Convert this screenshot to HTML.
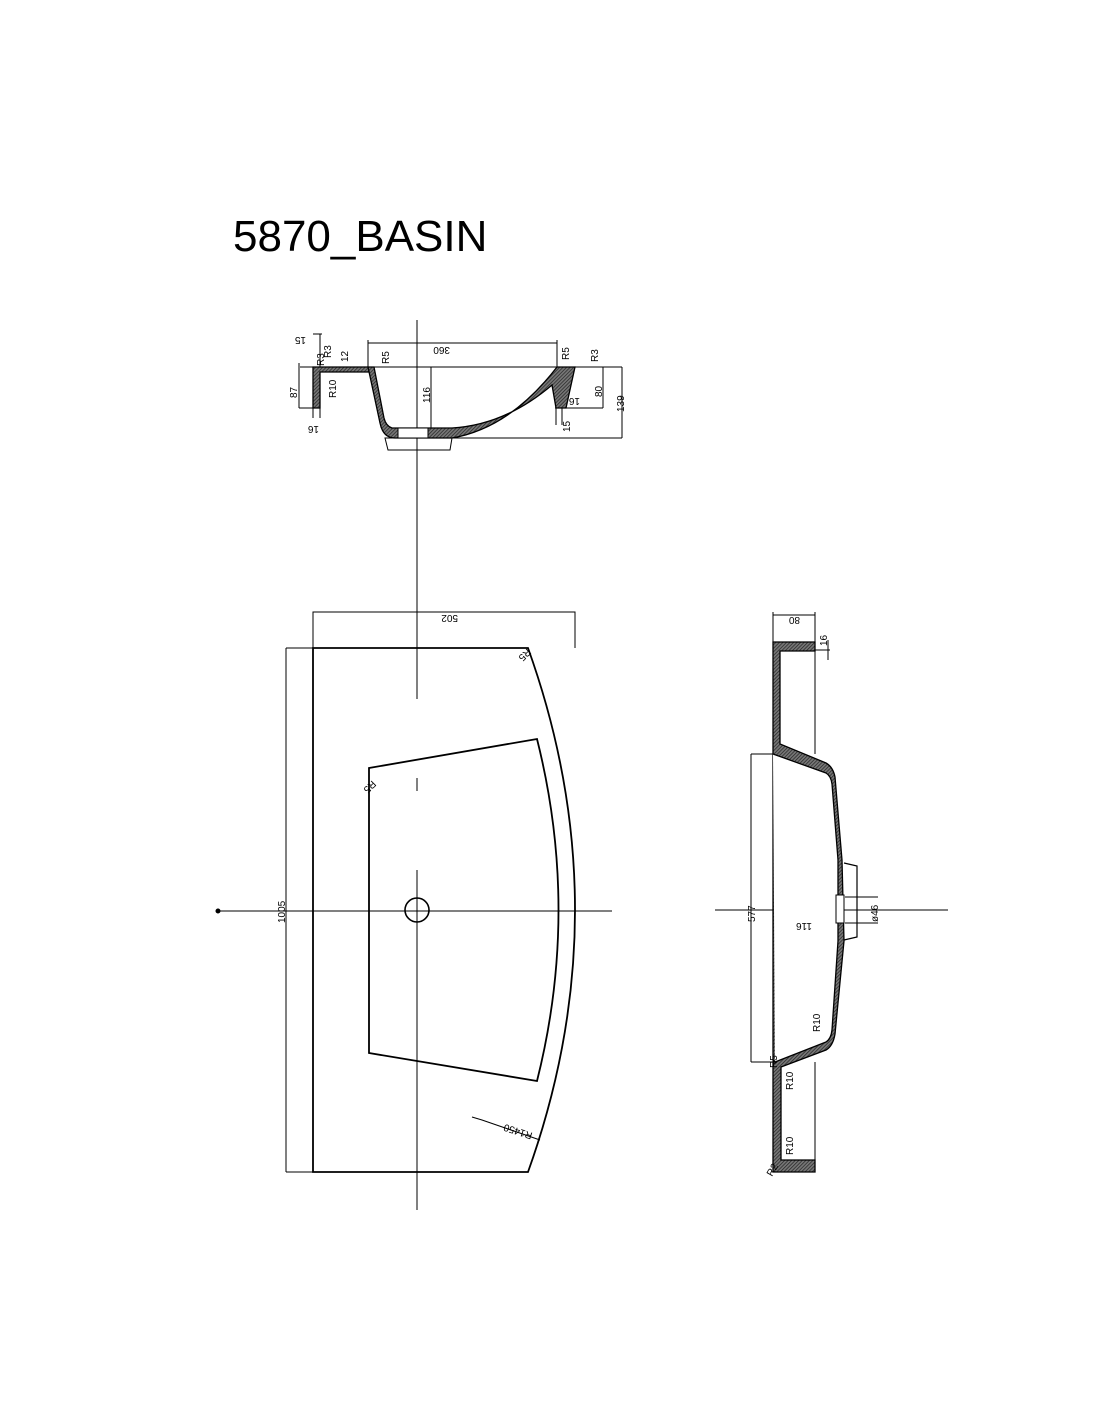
<!DOCTYPE html>
<html><head><meta charset="utf-8"><style>
html,body{margin:0;padding:0;background:#fff;}
svg{display:block;}
text{font-family:"Liberation Sans",sans-serif;fill:#000;}
</style></head><body>
<svg width="1100" height="1422" viewBox="0 0 1100 1422" xmlns="http://www.w3.org/2000/svg">
<defs>
<pattern id="h" width="2.5" height="2.5" patternUnits="userSpaceOnUse" patternTransform="rotate(45)">
<rect width="2.5" height="2.5" fill="#777"/><line x1="0" y1="0" x2="0" y2="2.5" stroke="#222" stroke-width="1.4"/>
</pattern>
</defs>
<text x="233" y="251" font-size="44">5870_BASIN</text>

<g stroke="#000" fill="none" stroke-width="1">
<!-- axis -->
<line x1="417" y1="320" x2="417" y2="699"/>
<line x1="417" y1="778" x2="417" y2="791"/>
<line x1="417" y1="870" x2="417" y2="1210"/>
<line x1="218" y1="911" x2="612" y2="911"/>
<circle cx="218" cy="911" r="2" fill="#000"/>

<!-- top section view -->
<line x1="300" y1="367" x2="622" y2="367"/>
<line x1="368" y1="343" x2="557" y2="343"/>
<line x1="368" y1="340" x2="368" y2="367"/>
<line x1="557" y1="340" x2="557" y2="367"/>
<line x1="622" y1="367" x2="622" y2="438"/>
<line x1="452" y1="438" x2="622" y2="438"/>
<line x1="603" y1="367" x2="603" y2="408"/>
<line x1="555" y1="408" x2="603" y2="408"/>
<line x1="431" y1="367" x2="431" y2="438"/>
<line x1="299" y1="363" x2="299" y2="408"/>
<line x1="299" y1="408" x2="318" y2="408"/>
<line x1="313" y1="334" x2="322" y2="334"/>
<line x1="320" y1="334" x2="320" y2="367"/>
<line x1="313" y1="408" x2="313" y2="418"/>
<line x1="320" y1="408" x2="320" y2="418"/>
<line x1="556" y1="408" x2="556" y2="425"/>
<line x1="562" y1="408" x2="562" y2="425"/>
<path d="M313,367 L368,367 L372,372 L320,372 L320,408 L313,408 Z" fill="url(#h)" stroke-width="1.3"/>
<path d="M368,367 L380,423 Q383,438 395,438 L452,438 Q510,428 557,367 L575,367 L566,408 L556,408 L552,385 Q505,425 452,428 L392,428 Q386,426 384,418 L374,367 Z" fill="url(#h)" stroke-width="1.3"/>
<path d="M385,438 L452,438 L450,450 L388,450 Z"/>
<rect x="398" y="428" width="30" height="10" fill="#fff"/>
</g>
<g font-size="10">
<text transform="translate(450,347) rotate(180)">360</text>
<text transform="translate(297,398) rotate(-90)">87</text>
<text transform="translate(430,403) rotate(-90)">116</text>
<text transform="translate(602,397) rotate(-90)">80</text>
<text transform="translate(624,412) rotate(-90)">139</text>
<text transform="translate(336,398) rotate(-90)">R10</text>
<text transform="translate(348,362) rotate(-90)">12</text>
<text transform="translate(331,358) rotate(-90)">R3</text>
<text transform="translate(324,366) rotate(-90)">R3</text>
<text transform="translate(306,337) rotate(180)">15</text>
<text transform="translate(319,426) rotate(180)">16</text>
<text transform="translate(389,364) rotate(-90)">R5</text>
<text transform="translate(569,360) rotate(-90)">R5</text>
<text transform="translate(598,362) rotate(-90)">R3</text>
<text transform="translate(580,398) rotate(180)">16</text>
<text transform="translate(570,432) rotate(-90)">15</text>
</g>

<!-- plan view -->
<g stroke="#000" fill="none">
<polyline points="313,648 313,612 575,612 575,648" stroke-width="1"/>
<line x1="286" y1="648" x2="313" y2="648" stroke-width="1"/>
<line x1="286" y1="1172" x2="313" y2="1172" stroke-width="1"/>
<line x1="286" y1="648" x2="286" y2="1172" stroke-width="1"/>
<path d="M313,648 L528,648 Q622,910 528,1172 L313,1172 Z" stroke-width="1.8"/>
<path d="M369,768 L537,739 Q580,910 537,1081 L369,1053 Z" stroke-width="1.8"/>
<circle cx="417" cy="910" r="12" stroke-width="1.6"/>
<path d="M472,1117 L482,1120 L540,1140" stroke-width="1"/>
</g>
<g font-size="10">
<text transform="translate(458,615) rotate(180)">502</text>
<text transform="translate(285,923) rotate(-90)">1005</text>
<text transform="translate(533,1133) rotate(198)">R1450</text>
<text transform="translate(527,648) rotate(135)">R5</text>
<text transform="translate(372,780) rotate(135)">R5</text>
</g>

<!-- side view -->
<g stroke="#000" fill="none" stroke-width="1">
<line x1="715" y1="910" x2="948" y2="910"/>
<line x1="773" y1="612" x2="773" y2="642"/>
<line x1="815" y1="612" x2="815" y2="754"/>
<line x1="815" y1="1062" x2="815" y2="1172"/>
<line x1="773" y1="615" x2="815" y2="615"/>
<line x1="815" y1="650" x2="830" y2="650"/>
<line x1="828" y1="640" x2="828" y2="660"/>
<line x1="751" y1="754" x2="773" y2="754"/>
<line x1="751" y1="1062" x2="775" y2="1062"/>
<line x1="751" y1="754" x2="751" y2="1062"/>
<line x1="773" y1="920" x2="838" y2="920"/>
<line x1="845" y1="897" x2="878" y2="897"/>
<line x1="845" y1="923" x2="878" y2="923"/>
<path d="M773,642 L815,642 L815,651 L780,651 L780,744 L826,763 Q833,767 835,777 L842,860 L844,941 L835,1034 Q833,1046 826,1050 L781,1067 L781,1160 L815,1160 L815,1172 L773,1172 L773,1062 L775,1062 L773,1060 L773,754 Z" fill="url(#h)" stroke-width="1.3"/>
<path d="M773,754 L773,1062"/>
<path d="M773,754 L826,773 Q831,776 832,784 L838,860 L838,941 L832,1030 Q831,1039 826,1042 L775,1062" fill="#fff" stroke-width="1.3"/>
<path d="M844,863 L857,866 L857,937 L844,940" stroke-width="1.2"/>
<rect x="836" y="895" width="8" height="28" fill="#fff"/>
</g>
<g font-size="10">
<text transform="translate(800,617) rotate(180)">80</text>
<text transform="translate(827,646) rotate(-90)">16</text>
<text transform="translate(755,922) rotate(-90)">577</text>
<text transform="translate(812,923) rotate(180)">116</text>
<text transform="translate(878,922) rotate(-90)">ø46</text>
<text transform="translate(820,1032) rotate(-90)">R10</text>
<text transform="translate(793,1090) rotate(-90)">R10</text>
<text transform="translate(793,1155) rotate(-90)">R10</text>
<text transform="translate(777,1068) rotate(-90)">R5</text>
<text transform="translate(772,1177) rotate(-60)">R2</text>
</g>
</svg>
</body></html>
